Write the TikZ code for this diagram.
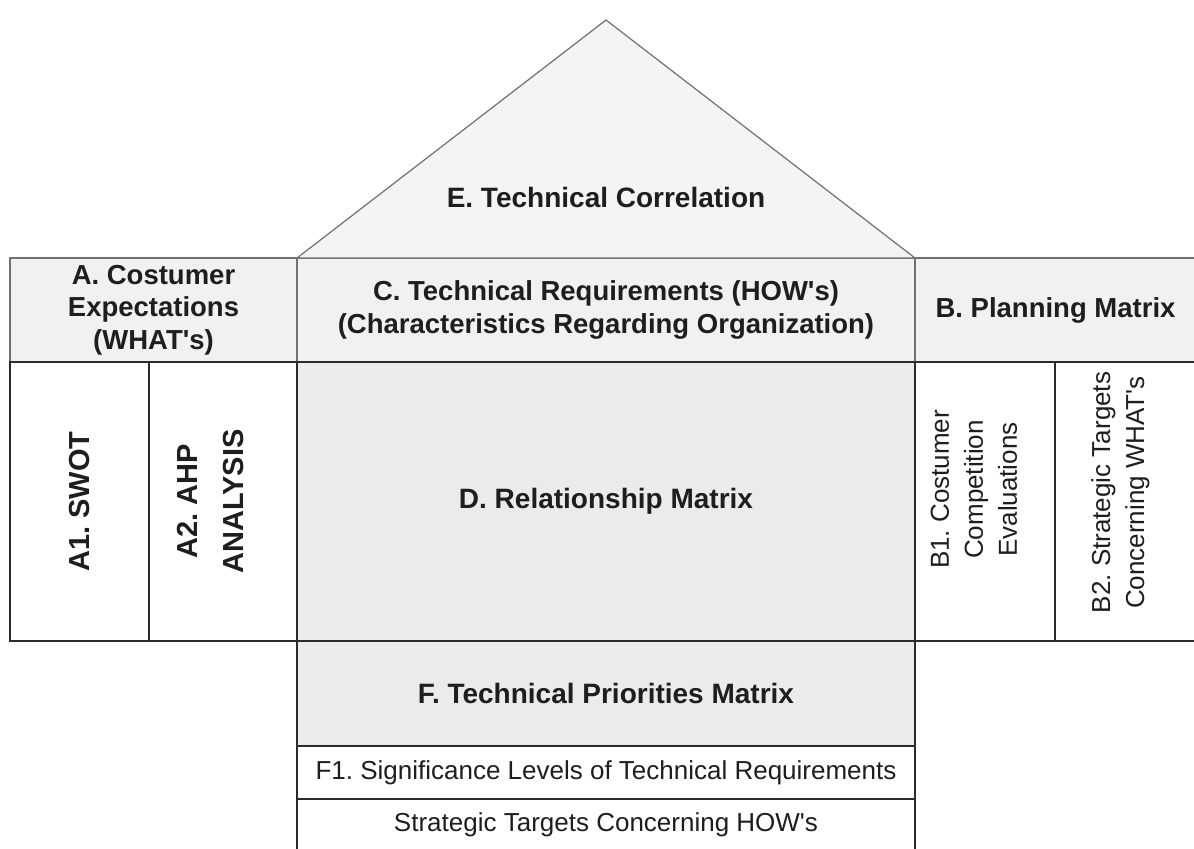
\documentclass[tikz,border=0pt]{standalone}
\usepackage{fontspec}
\setmainfont{Liberation Sans}
\frenchspacing
\usetikzlibrary{positioning}
\definecolor{roofgray}{HTML}{F4F4F4}
\definecolor{headgray}{HTML}{F1F1F1}
\definecolor{matrixgray}{HTML}{EBEBEB}
\definecolor{edgegray}{HTML}{707070}
\definecolor{edgedark}{HTML}{2B2B2B}
\definecolor{textdark}{HTML}{1E1E1E}
\newcommand{\apos}{\textquotesingle}

\begin{document}
\begin{tikzpicture}[x=0.5pt, y=-0.5pt, text=textdark,
    font=\fontsize{13}{17}\selectfont,
    cell/.style={rectangle, draw=edgedark, line width=0.8pt, inner sep=0pt, outer sep=0pt,
      fill=white, align=center, minimum height=139.5pt},
    head/.style={cell, draw=edgegray, line width=0.6pt, fill=headgray, minimum height=52pt,
      font=\fontsize{13.75}{16.25}\selectfont\bfseries},
    bold/.style={font=\fontsize{14}{17}\selectfont\bfseries},
    vlbl/.style={rotate=90, align=center, inner sep=0pt}]
    \useasboundingbox (0,0) rectangle (1194,848);

    % Roof
    \coordinate (apex) at (606,20);
    \node (C) [head, minimum width=309pt, anchor=north west] at (297,258)
      {C. Technical Requirements (HOW\apos s)\\(Characteristics Regarding Organization)};
    \filldraw[fill=roofgray, draw=edgegray, line width=0.6pt]
      (C.north west) -- (apex) -- (C.north east) -- cycle;
    \node (E) [bold] at (606,197) {E. Technical Correlation};

    % Header row
    \node (A) [head, left=0pt of C, minimum width=143.5pt]
      {A. Costumer\\Expectations\\(WHAT\apos s)};
    \node (B) [head, right=0pt of C, minimum width=140.5pt] {B. Planning Matrix};

    % Middle row
    \node (D) [cell, bold, fill=matrixgray, below=0pt of C, minimum width=309pt]
      {D. Relationship Matrix};
    \node (A2) [cell, left=0pt of D, minimum width=74pt] {};
    \node (A1) [cell, left=0pt of A2, minimum width=69.5pt] {};
    \node (B1) [cell, right=0pt of D, minimum width=70pt] {};
    \node (B2) [cell, right=0pt of B1, minimum width=70.5pt] {};

    \node (a1txt) [vlbl, font=\fontsize{14.5}{23}\selectfont\bfseries] at (A1) {A1. SWOT};
    \node (a2txt) [vlbl, font=\fontsize{14.5}{23}\selectfont\bfseries]
      at ([xshift=-6pt]A2.center) {A2. AHP\\ANALYSIS};
    \node (b1txt) [vlbl] at ([xshift=-5.5pt, yshift=6pt]B1.center)
      {B1. Costumer\\Competition\\Evaluations};
    \node (b2txt) [vlbl] at ([xshift=-2.5pt, yshift=4.5pt]B2.center)
      {B2. Strategic Targets\\Concerning WHAT\apos s};

    % Basement
    \node (F) [cell, bold, fill=matrixgray, below=0pt of D, minimum width=309pt,
      minimum height=52.5pt] {F. Technical Priorities Matrix};
    \node (F1) [cell, below=0pt of F, minimum width=309pt, minimum height=26.5pt]
      {F1. Significance Levels of Technical Requirements};
    \node (S) [cell, below=0pt of F1, minimum width=309pt, minimum height=25.5pt]
      {Strategic Targets Concerning HOW\apos s};
\end{tikzpicture}
\end{document}
